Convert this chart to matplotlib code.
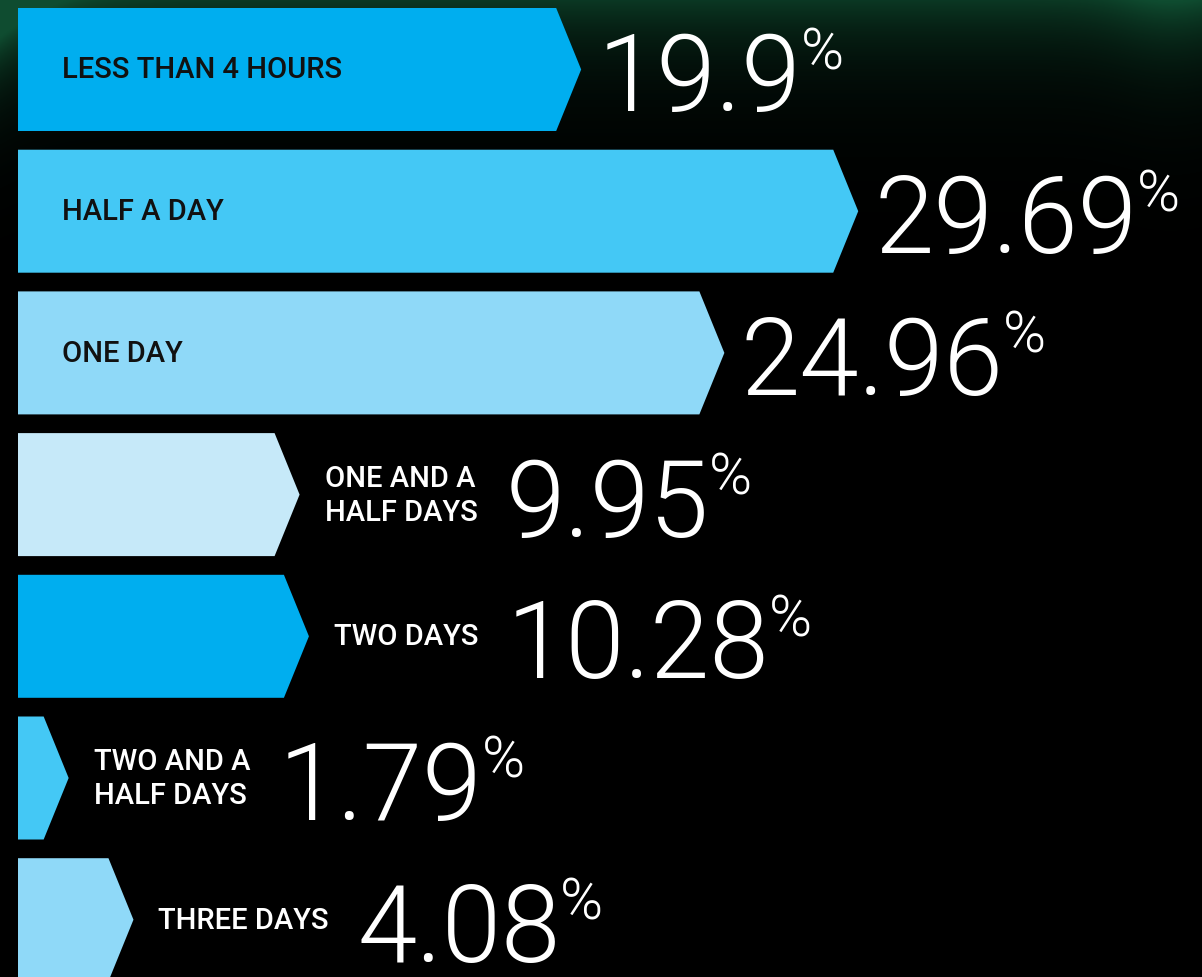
import matplotlib
matplotlib.use('Agg')
import matplotlib.pyplot as plt
from matplotlib.patches import Polygon
import numpy as np

# ---- data ----
categories = ["LESS THAN 4 HOURS", "HALF A DAY", "ONE DAY", "ONE AND A\nHALF DAYS",
              "TWO DAYS", "TWO AND A\nHALF DAYS", "THREE DAYS"]
values = [19.9, 29.69, 24.96, 9.95, 10.28, 1.79, 4.08]
value_labels = ["19.9", "29.69", "24.96", "9.95", "10.28", "1.79", "4.08"]
label_inside = [True, True, True, False, False, False, False]
colors = ["#00AEEF", "#44C8F5", "#8FD9F8", "#C6E9F9", "#00AEEF", "#44C8F5", "#8FD9F8"]

W, H = 1202, 978
DPI = 100
fig = plt.figure(figsize=(W / DPI, H / DPI), dpi=DPI, facecolor='black')

# ---- background: dark green glow at top fading to black ----
bg = fig.add_axes([0, 0, 1, 1])
bg.axis('off')
ypx = np.arange(H)[:, None].astype(float)
xpx = np.arange(W)[None, :].astype(float)
fade = np.exp(-ypx / 55.0)
side = (0.75 + 1.5 * np.exp(-xpx / 40.0) * np.exp(-ypx / 200.0)
        + 0.3 * np.exp(-((xpx - 1170) / 60.0) ** 2))
alpha = np.clip(fade * side, 0, 1)
img = np.zeros((H, W, 4))
img[..., 0] = 0.06
img[..., 1] = 0.30
img[..., 2] = 0.19
img[..., 3] = alpha
bg.imshow(img, extent=[0, 1, 0, 1], aspect='auto', origin='upper')
bg.set_xlim(0, 1)
bg.set_ylim(0, 1)

# ---- main axes ----
ax = fig.add_axes([0, 0, 1, 1])
ax.patch.set_alpha(0)
ax.axis('off')
scale = 28.3        # px per percent
x0 = 18.0           # px
pitch = 141.7       # px per row
c0 = 70.5           # px centre of first row
ax.set_xlim(-x0 / scale, (W - x0) / scale)
ax.set_ylim((H - c0) / pitch, -c0 / pitch)

bar_h = 123.0 / pitch
tip = 25.0 / scale

label_font = ['Roboto', 'DejaVu Sans']
num_font = ['Roboto', 'DejaVu Sans']
NUM_SIZE = 77
PCT_SIZE = 42
NUM_W = 300

for i, (cat, v, vl, inside, col) in enumerate(zip(categories, values, value_labels,
                                                    label_inside, colors)):
    top, bot = i - bar_h / 2, i + bar_h / 2
    poly = Polygon([(0, top), (v - tip, top), (v, i), (v - tip, bot), (0, bot)],
                   closed=True, facecolor=col, edgecolor='none')
    ax.add_patch(poly)

    if inside:
        ax.annotate(cat, xy=(0, i), xytext=(44, 0), textcoords='offset pixels',
                    ha='left', va='center', color='#111111', fontsize=21,
                    fontweight='medium', family=label_font)
        num = ax.annotate(vl, xy=(v, i), xytext=(16, -41), textcoords='offset pixels',
                          ha='left', va='baseline', color='white', fontsize=NUM_SIZE,
                          fontweight=NUM_W, family=num_font)
    else:
        lab = ax.annotate(cat, xy=(v, i), xytext=(25, 0), textcoords='offset pixels',
                          ha='left', va='center', color='white', fontsize=21,
                          fontweight='medium', family=label_font, linespacing=1.28)
        num = ax.annotate(vl, xy=(1, i), xycoords=(lab, 'data'), xytext=(28, -41),
                          textcoords='offset pixels', ha='left', va='baseline',
                          color='white', fontsize=NUM_SIZE, fontweight=NUM_W,
                          family=num_font)
    ax.annotate('%', xy=(1, i), xycoords=(num, 'data'), xytext=(0, 44),
                textcoords='offset pixels', ha='left', va='top', color='white',
                fontsize=PCT_SIZE, fontweight=NUM_W, family=num_font)

fig.savefig('out.png', dpi=DPI, facecolor='black')
